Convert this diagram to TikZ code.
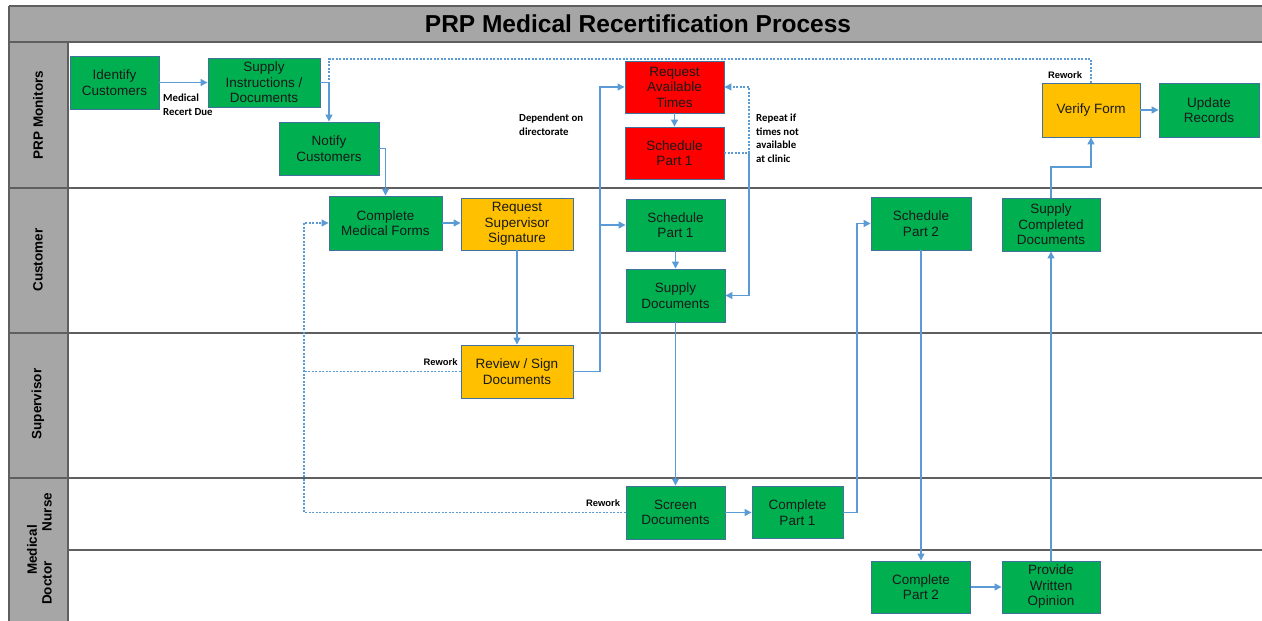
\documentclass[tikz,border=0pt]{standalone}
\usepackage{fontspec}
\setmainfont{Liberation Sans}
\newfontfamily\calfont{Carlito}
\usetikzlibrary{arrows.meta}
\definecolor{gfill}{HTML}{00B050}
\definecolor{yfill}{HTML}{FFC000}
\definecolor{rfill}{HTML}{FF0000}
\definecolor{bord}{HTML}{41719C}
\definecolor{arrc}{HTML}{5B9BD5}
\definecolor{lanegray}{HTML}{A6A6A6}
\definecolor{lineg}{HTML}{5F5F5F}
\begin{document}
\begin{tikzpicture}[x=1pt,y=-1pt,
  proc/.style={draw=bord, line width=0.9pt, inner sep=0pt, align=center, font=\fontsize{13.5}{15.5}\selectfont, text=black!90},
  gbox/.style={proc, fill=gfill},
  ybox/.style={proc, fill=yfill},
  rbox/.style={proc, fill=rfill},
  flow/.style={draw=arrc, line width=1.3pt, -{Triangle[length=7pt,width=7pt]}},
  flowplain/.style={draw=arrc, line width=1.3pt},
  rework/.style={draw=arrc, line width=1.1pt, dash pattern=on 2pt off 1.5pt},
  reworkarrow/.style={rework, -{Triangle[length=7pt,width=7pt]}},
  note/.style={font=\calfont\bfseries\fontsize{10.8}{13.5}\selectfont, align=left, inner sep=0pt, anchor=north west},
  rwlabel/.style={font=\bfseries\fontsize{9.4}{11}\selectfont, inner sep=0pt},
  lanelabel/.style={font=\bfseries\fontsize{13.5}{15}\selectfont, rotate=90, inner sep=0pt},
  laneline/.style={draw=lineg, line width=1.4pt},
]
\useasboundingbox (0,0) rectangle (1262,621);
% frame
\fill[lanegray] (9,6) rectangle (1262,42);
\fill[lanegray] (9,42) rectangle (68,621);
\draw[laneline] (9,6) -- (1262,6);
\draw[laneline] (9,6) -- (9,621);
\draw[laneline] (9,42) -- (1262,42);
\draw[laneline] (68,42) -- (68,621);
\draw[laneline] (9,188) -- (1262,188);
\draw[laneline] (9,333) -- (1262,333);
\draw[laneline, line width=2.4pt] (9,478) -- (1262,478);
\draw[laneline] (68,550) -- (1262,550);

\node[font=\bfseries\fontsize{24.5}{28}\selectfont] (title) at (638,24) {PRP Medical Recertification Process};

\node[lanelabel] (lprp) at (38,115) {PRP Monitors};
\node[lanelabel] (lcus) at (38,260) {Customer};
\node[lanelabel] (lsup) at (38,404) {Supervisor};
\node[lanelabel] (lnur) at (47,512) {Nurse};
\node[lanelabel] (lmed) at (32,550) {Medical};
\node[lanelabel] (ldoc) at (47,583) {Doctor};

% process boxes
\node[gbox, minimum width=89, minimum height=53] (idc) at (114.5,82.5) {Identify\\Customers};
\node[gbox, minimum width=112, minimum height=49] (sid) at (264,82.5) {Supply\\Instructions /\\Documents};
\node[gbox, minimum width=100, minimum height=53] (ntc) at (329,148.5) {Notify\\Customers};
\node[gbox, minimum width=113, minimum height=54] (cmf) at (385.5,223) {Complete\\Medical Forms};
\node[ybox, minimum width=112, minimum height=52] (rss) at (517,224) {Request\\Supervisor\\Signature};
\node[rbox, minimum width=99, minimum height=52] (rat) at (674.5,87) {Request\\Available\\Times};
\node[rbox, minimum width=99, minimum height=52] (sp1r) at (674.5,153) {Schedule\\Part 1};
\node[gbox, minimum width=99, minimum height=52] (sp1g) at (675.5,225) {Schedule\\Part 1};
\node[gbox, minimum width=99, minimum height=53] (sdoc) at (675.5,295.5) {Supply\\Documents};
\node[ybox, minimum width=112, minimum height=53] (rsd) at (517,371.5) {Review / Sign\\Documents};
\node[gbox, minimum width=99, minimum height=53] (scr) at (675.5,512.5) {Screen\\Documents};
\node[gbox, minimum width=91, minimum height=52] (cp1) at (797.5,512.5) {Complete\\Part 1};
\node[gbox, minimum width=100, minimum height=53] (sp2) at (921,223.5) {Schedule\\Part 2};
\node[gbox, minimum width=99, minimum height=52] (cp2) at (921,587) {Complete\\Part 2};
\node[gbox, minimum width=98, minimum height=52] (pwo) at (1051,587) {Provide\\Written\\Opinion};
\node[gbox, minimum width=98, minimum height=53] (scd) at (1051,224.5) {Supply\\Completed\\Documents};
\node[ybox, minimum width=98, minimum height=54] (vf) at (1091,110) {Verify Form};
\node[gbox, minimum width=100, minimum height=54] (ur) at (1209,110) {Update\\Records};

% helper coordinates
\coordinate (jx) at (600,0);
\coordinate (jr) at (749,153);
\coordinate (jp) at (857,0);
\coordinate (jv) at (1051,167);
\coordinate (rwtop) at (329,59);
\coordinate (rwend) at (329,82.5);
\coordinate (rwx) at (304,0);

% solid flows
\draw[flow] (idc) -- (sid);
\draw[flow] (sid.east) -| (ntc.north);
\draw[flow] (ntc.east) -| (cmf.north);
\draw[flow] (cmf.east) -- (cmf.east -| rss.west);
\draw[flow] (rss.south) -- (rsd.north);
\draw[flow] (rsd.east) -| (jx |- rat.west) -- (rat.west);
\draw[flow] (jx |- sp1g.west) -- (sp1g.west);
\draw[flow] (rat.south) -- (sp1r.north);
\draw[flow] (jr) |- (sdoc.east);
\draw[flow] (sp1g.south) -- (sdoc.north);
\draw[flow] (sdoc.south) -- (scr.north);
\draw[flow] (scr.east) -- (scr.east -| cp1.west);
\draw[flow] (cp1.east) -| (jp |- sp2.west) -- (sp2.west);
\draw[flow] (sp2.south) -- (sp2.south |- cp2.north);
\draw[flow] (cp2) -- (pwo);
\draw[flow] (pwo.north) -- (scd.south);
\draw[flow] (scd.north) -- (jv) -| (vf.south);
\draw[flow] (vf) -- (ur);

% dashed rework / repeat loops
\draw[reworkarrow] (sp1r.east) -- (jr) |- (rat.east);
\draw[rework] (vf.north) |- (rwtop) -- (rwend);
\draw[reworkarrow] (scr.west) -- (rwx |- scr.west) |- (cmf.west);
\draw[rework] (rsd.west) -- (rwx |- rsd.west);

% labels
\node[note] (lblrecert) at (163,94) {Medical\\Recert Due};
\node[note] (lbldep) at (519,114) {Dependent on\\directorate};
\node[note] (lblrep) at (756,114) {Repeat if\\times not\\available\\at clinic};
\node[rwlabel] (rw1) at (1065,75) {Rework};
\node[rwlabel] (rw2) at (440.5,362) {Rework};
\node[rwlabel] (rw3) at (603,503) {Rework};
\end{tikzpicture}
\end{document}
